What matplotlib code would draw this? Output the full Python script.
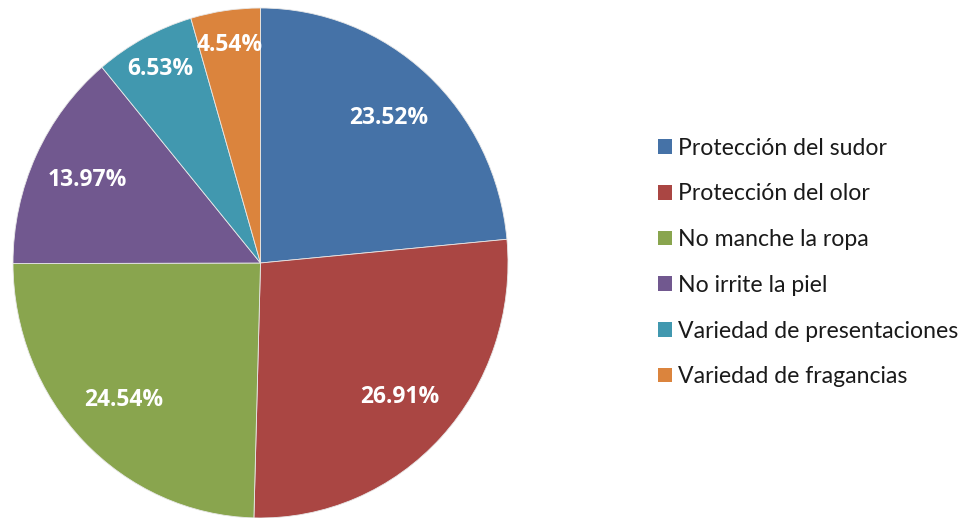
import matplotlib
matplotlib.use("Agg")
import matplotlib.pyplot as plt
from matplotlib.patches import Patch

categories = ["Protección del sudor", "Protección del olor", "No manche la ropa",
              "No irrite la piel", "Variedad de presentaciones", "Variedad de fragancias"]
values = [23.52, 26.91, 24.54, 13.97, 6.53, 4.54]
colors = ["#4572A7", "#AA4643", "#89A54E", "#71588F", "#4198AF", "#DB843D"]

plt.rcParams['font.family'] = ['Lato', 'DejaVu Sans']

W, H = 973, 518
fig = plt.figure(figsize=(W / 100, H / 100), dpi=100)
fig.patch.set_facecolor("white")

ax = fig.add_axes([13 / W, 0 / H, 495 / W, 510 / H])
wedges, texts, autotexts = ax.pie(
    values, colors=colors, startangle=90, counterclock=False,
    autopct=lambda p: f"{p:.2f}%", pctdistance=0.77,
    wedgeprops=dict(edgecolor="#e8e8e8", linewidth=0.6),
    textprops=dict(color="white", fontsize=16.5, fontweight="bold",
                   family=["Open Sans", "DejaVu Sans"]))
for t, v in zip(autotexts, values):
    if v < 8:
        t.set_position((t.get_position()[0] * 1.12, t.get_position()[1] * 1.12))
ax.set_aspect("auto")
ax.set_xlim(-1, 1)
ax.set_ylim(-1, 1)
ax.axis("off")

handles = [Patch(facecolor=c, edgecolor="none") for c in colors]
fig.legend(handles, categories, loc="center left",
           bbox_to_anchor=(637 / W, 1 - 262.5 / H), frameon=False,
           fontsize=16.6, labelspacing=1.07, handlelength=0.6, handleheight=0.6,
           handletextpad=0.3, labelcolor="#1a1a1a")

fig.savefig("out.png", dpi=100, facecolor="white")
